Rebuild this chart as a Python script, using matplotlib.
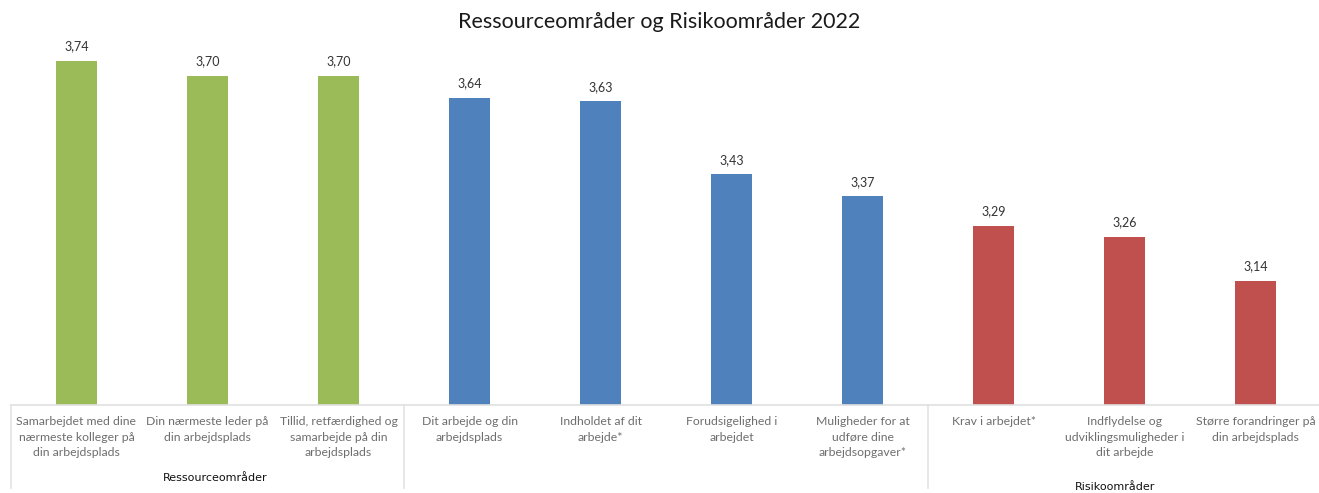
import numpy as np
import matplotlib
matplotlib.use('Agg')
import matplotlib.pyplot as plt
import matplotlib.transforms as mtransforms

# data
categories = [
    'Samarbejdet med dine\nnærmeste kolleger på\ndin arbejdsplads',
    'Din nærmeste leder på\ndin arbejdsplads',
    'Tillid, retfærdighed og\nsamarbejde på din\narbejdsplads',
    'Dit arbejde og din\narbejdsplads',
    'Indholdet af dit\narbejde*',
    'Forudsigelighed i\narbejdet',
    'Muligheder for at\nudføre dine\narbejdsopgaver*',
    'Krav i arbejdet*',
    'Indflydelse og\nudviklingsmuligheder i\ndit arbejde',
    'Større forandringer på\ndin arbejdsplads',
]
values = [3.74, 3.70, 3.70, 3.64, 3.63, 3.43, 3.37, 3.29, 3.26, 3.14]
groups = ['Ressourceområder', 'Ressourceområder', 'Ressourceområder',
          'Mellem', 'Mellem', 'Mellem', 'Mellem',
          'Risikoområder', 'Risikoområder', 'Risikoområder']
group_colors = {'Ressourceområder': '#9BBB59', 'Mellem': '#4F81BD', 'Risikoområder': '#C0504D'}

plt.rcParams['font.family'] = ['Lato', 'DejaVu Sans']

W, H = 1319, 493
fig = plt.figure(figsize=(W / 100, H / 100), dpi=100)
ax = fig.add_axes([11 / W, (H - 405) / H, 1308 / W, (405 - 39) / H])

x = np.arange(len(values))
colors = [group_colors[g] for g in groups]
bars = ax.bar(x, values, width=0.31, color=colors, bottom=0)
ax.set_ylim(2.8, 3.8)
ax.set_xlim(-0.5, -0.5 + 1308 / 131)

for b, v in zip(bars, values):
    ax.annotate(f'{v:.2f}'.replace('.', ','), (b.get_x() + b.get_width() / 2, v),
                xytext=(0, 6), textcoords='offset points', ha='center', va='bottom',
                fontsize=9, color='#333333')

for s in ['top', 'right', 'left']:
    ax.spines[s].set_visible(False)
ax.spines['bottom'].set_color('#e0e0e0')
ax.spines['bottom'].set_linewidth(1.2)
ax.set_yticks([])
ax.set_xticks(x)
ax.set_xticklabels(categories, fontsize=8.8, color='#6e6e6e', linespacing=1.5)
ax.tick_params(axis='x', length=0, pad=8)

# group separators below the axis
trans = mtransforms.blended_transform_factory(ax.transData, ax.transAxes)
for sx in [-0.5, 2.5, 6.5]:
    ax.plot([sx, sx], [0, -0.227], transform=trans, color='#e3e3e3', lw=1.2, clip_on=False)

ax.text(1.06, -0.2, 'Ressourceområder', transform=trans, ha='center', va='center',
        fontsize=8, color='#111111', family=['DejaVu Sans'])
ax.text(7.93, -0.225, 'Risikoområder', transform=trans, ha='center', va='center',
        fontsize=8, color='#111111', family=['DejaVu Sans'])

fig.text(0.5, 1 - 22 / H, 'Ressourceområder og Risikoområder 2022', ha='center', va='center',
         fontsize=15.5, color='#1a1a1a')

fig.savefig('out.png', dpi=100)
